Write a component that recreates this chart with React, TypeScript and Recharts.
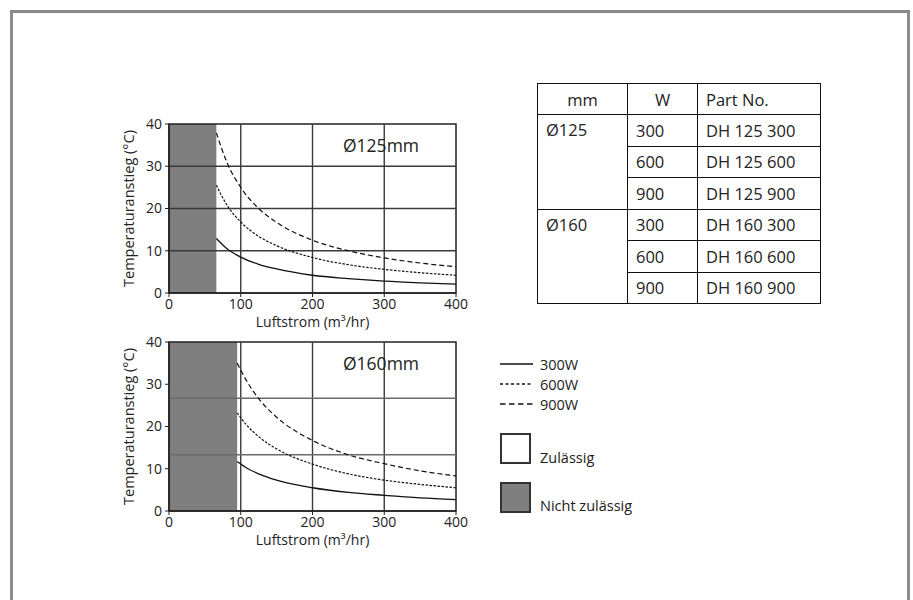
import React from 'react'
import { LineChart, Line, XAxis, YAxis, ReferenceArea, ReferenceLine } from 'recharts'

const FONT = '"Open Sans", "Noto Sans", sans-serif'
const INK = '#222'

const xTicks = [0, 100, 200, 300, 400]
const yTicks = [0, 10, 20, 30, 40]
const xGrid = [100, 200, 300]

// Ø125mm
const d125Limit = 66
const d125GridY = [10, 20, 30]
const d125Flow = [66, 80, 100, 125, 150, 200, 250, 300, 350, 400]
const d125W300 = [12.9, 10.6, 8.5, 6.8, 5.7, 4.2, 3.4, 2.8, 2.4, 2.1]
const d125W600 = [25.5, 21, 16.8, 13.4, 11.2, 8.4, 6.7, 5.6, 4.8, 4.2]
const d125W900 = [37.9, 31.2, 25, 20, 16.7, 12.5, 10, 8.3, 7.1, 6.2]

// Ø160mm
const d160Limit = 95
const d160GridY = [13.33, 26.67]
const d160Flow = [95, 110, 125, 150, 200, 250, 300, 350, 400]
const d160W300 = [11.7, 10, 8.8, 7.3, 5.5, 4.4, 3.7, 3.1, 2.7]
const d160W600 = [23.2, 20, 17.6, 14.7, 11.1, 8.8, 7.3, 6.3, 5.5]
const d160W900 = [35, 30.3, 26.6, 22.2, 16.7, 13.3, 11.2, 9.5, 8.3]

const tableHeader = ['mm', 'W', 'Part No.']
const tableSizes = ['Ø125', 'Ø160']
const tableWatts = ['300', '600', '900']
const tableParts = [
  ['DH 125 300', 'DH 125 600', 'DH 125 900'],
  ['DH 160 300', 'DH 160 600', 'DH 160 900'],
]

const tickStyle = { fill: INK, fontSize: 14, fontFamily: FONT }

const yLabel = (props: any) => {
  const cy = props.viewBox.y + props.viewBox.height / 2
  return (
    <text x={18} y={cy} transform={`rotate(-90 18 ${cy})`} textAnchor="middle" dominantBaseline="central"
      fill={INK} fontSize={14.5} fontFamily={FONT}>
      Temperaturanstieg (°C)
    </text>
  )
}

type ChartProps = {
  title: string
  top: number
  limit: number
  gridY: number[]
  gridColor: string
  flow: number[]
  w300: number[]
  w600: number[]
  w900: number[]
}

function HeaterChart({ title, top, limit, gridY, gridColor, flow, w300, w600, w900 }: ChartProps) {
  const rows = flow.map((f, i) => ({ flow: f, w300: w300[i], w600: w600[i], w900: w900[i] }))
  return (
    <div style={{ position: 'absolute', left: 110, top, width: 360, height: 220 }}>
      <LineChart width={360} height={220} data={rows} margin={{ top: 14, right: 14, bottom: 0, left: 0 }}>
        <XAxis dataKey="flow" type="number" domain={[0, 400]} ticks={xTicks} height={37}
          axisLine={{ stroke: INK, strokeWidth: 1.5 }} tickLine={{ stroke: INK }} tickSize={4} tick={tickStyle}
          label={{ value: 'Luftstrom (m³/hr)', position: 'insideBottom', offset: 3, fill: INK, fontSize: 14, fontFamily: FONT }} />
        <YAxis type="number" domain={[0, 40]} ticks={yTicks} width={59}
          axisLine={{ stroke: INK, strokeWidth: 1.5 }} tickLine={{ stroke: INK }} tickSize={4} tickMargin={3} tick={tickStyle}
          label={{ content: yLabel }} />
        <ReferenceArea x1={0} x2={limit} y1={0} y2={40} fill="#7f7f7f" fillOpacity={1} stroke="none" />
        {xGrid.map((v) => (
          <ReferenceLine key={'x' + v} x={v} stroke="#3a3a3a" strokeWidth={1.4} />
        ))}
        {gridY.map((v) => (
          <ReferenceLine key={'y' + v} y={v} stroke={gridColor} strokeWidth={1.4} />
        ))}
        <Line dataKey="w300" type="monotone" stroke="#111" strokeWidth={1.3} dot={false} isAnimationActive={false} />
        <Line dataKey="w600" type="monotone" stroke="#111" strokeWidth={1.2} strokeDasharray="2.5 1.5" dot={false} isAnimationActive={false} />
        <Line dataKey="w900" type="monotone" stroke="#111" strokeWidth={1.2} strokeDasharray="5 3" dot={false} isAnimationActive={false} />
        <ReferenceArea x1={0} x2={400} y1={0} y2={40} fill="none" stroke={INK} strokeWidth={1.5} />
      </LineChart>
      <div style={{ position: 'absolute', left: 233, top: 22, fontSize: 17.5, fontFamily: FONT, color: INK, lineHeight: '26px' }}>
        {title}
      </div>
    </div>
  )
}

const cell: React.CSSProperties = { border: '1.5px solid #111', padding: '0 8px', height: 30, verticalAlign: 'middle' }

function PartTable() {
  return (
    <table style={{ position: 'absolute', left: 537, top: 83, width: 283, borderCollapse: 'collapse',
      fontFamily: FONT, fontSize: 16.5, color: INK, tableLayout: 'fixed' }}>
      <colgroup>
        <col style={{ width: 90 }} />
        <col style={{ width: 70 }} />
        <col style={{ width: 123 }} />
      </colgroup>
      <tbody>
        <tr>
          <td style={{ ...cell, textAlign: 'center' }}>{tableHeader[0]}</td>
          <td style={{ ...cell, textAlign: 'center' }}>{tableHeader[1]}</td>
          <td style={cell}>{tableHeader[2]}</td>
        </tr>
        {tableSizes.map((size, s) =>
          tableWatts.map((w, i) => (
            <tr key={size + w}>
              {i === 0 && (
                <td rowSpan={3} style={{ ...cell, verticalAlign: 'top', paddingTop: 3 }}>{size}</td>
              )}
              <td style={{ ...cell, height: 30.5 }}>{w}</td>
              <td style={{ ...cell, height: 30.5 }}>{tableParts[s][i]}</td>
            </tr>
          ))
        )}
      </tbody>
    </table>
  )
}

const legendLines = [
  { label: '300W', dash: undefined },
  { label: '600W', dash: '3 2.5' },
  { label: '900W', dash: '5.5 3.5' },
]

function Key() {
  const txt = { fontSize: 14.5, fontFamily: FONT, fill: INK }
  return (
    <svg style={{ position: 'absolute', left: 490, top: 340 }} width={210} height={190}>
      {legendLines.map((l, i) => (
        <g key={l.label}>
          <line x1={10} x2={43} y1={24 + i * 20} y2={24 + i * 20} stroke="#111" strokeWidth={1.5} strokeDasharray={l.dash} />
          <text x={50} y={24 + i * 20} dominantBaseline="central" {...txt}>{l.label}</text>
        </g>
      ))}
      <rect x={11} y={94} width={29} height={29} fill="#fff" stroke="#333" strokeWidth={2} />
      <text x={50} y={117} dominantBaseline="central" {...txt}>Zulässig</text>
      <rect x={11} y={143} width={29} height={29} fill="#7f7f7f" stroke="#333" strokeWidth={2} />
      <text x={50} y={165} dominantBaseline="central" {...txt}>Nicht zulässig</text>
    </svg>
  )
}

export default function App() {
  return (
    <div style={{ position: 'absolute', left: 0, top: 0, width: 913, height: 600, overflow: 'hidden', background: '#fff' }}>
      <div style={{ position: 'absolute', left: 10, top: 10, width: 894, height: 620, border: '3px solid #8a8a8a' }} />
      <HeaterChart title="Ø125mm" top={110} limit={d125Limit} gridY={d125GridY} gridColor="#3a3a3a"
        flow={d125Flow} w300={d125W300} w600={d125W600} w900={d125W900} />
      <HeaterChart title="Ø160mm" top={328} limit={d160Limit} gridY={d160GridY} gridColor="#6a6a6a"
        flow={d160Flow} w300={d160W300} w600={d160W600} w900={d160W900} />
      <PartTable />
      <Key />
    </div>
  )
}
